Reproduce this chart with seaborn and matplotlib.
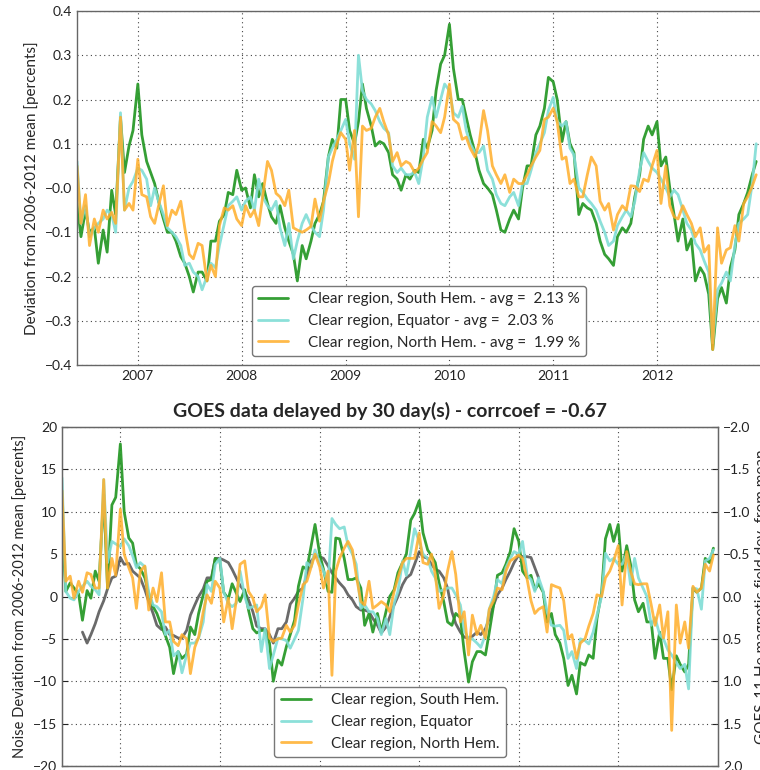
import numpy as np
import pandas as pd
import matplotlib
matplotlib.use('Agg')
import matplotlib.pyplot as plt
import matplotlib.dates as mdates
import seaborn as sns

# semi-monthly samples, June 2006 .. December 2012
dates = pd.date_range('2006-06-01', '2012-12-16', freq='SMS')

# ---- top panel: deviation from 2006-2012 mean [percents]
south_top = [
    -0.035, -0.11, -0.05, -0.1, -0.09, -0.17, -0.095, -0.145, -0.005, -0.06, 0.16, 0.035, 0.095, 0.13,
    0.235, 0.12, 0.06, 0.035, 0.01, -0.03, -0.07, -0.1, -0.1, -0.12, -0.155, -0.17, -0.2, -0.235, -0.19, -0.19, -0.21, -0.12, -0.12, -0.075, -0.06, -0.01, -0.015, 0.04,
    -0.005, 0.0, -0.045, 0.03, -0.02, 0.01, -0.035, -0.065, -0.08, -0.04, -0.09, -0.12, -0.15, -0.21, -0.13, -0.16, -0.12, -0.08, -0.06, -0.03, 0.07, 0.11, 0.09, 0.2,
    0.2, 0.13, 0.1, 0.15, 0.235, 0.18, 0.14, 0.095, 0.105, 0.1, 0.08, 0.03, 0.02, -0.005, 0.03, 0.02, 0.04, 0.035, 0.11, 0.09, 0.13, 0.22, 0.28, 0.3,
    0.37, 0.27, 0.2, 0.2, 0.16, 0.12, 0.08, 0.04, 0.01, 0.0, -0.015, -0.05, -0.095, -0.1, -0.07, -0.05, -0.07, 0.0, 0.05, 0.05, 0.12, 0.14, 0.18, 0.25,
    0.24, 0.2, 0.105, 0.15, 0.1, 0.08, -0.06, -0.035, -0.045, -0.05, -0.08, -0.12, -0.15, -0.16, -0.175, -0.11, -0.09, -0.1, -0.08, -0.02, 0.03, 0.11, 0.14, 0.12,
    0.15, 0.05, 0.07, 0.0, -0.06, -0.12, -0.07, -0.14, -0.115, -0.21, -0.18, -0.195, -0.24, -0.365, -0.25, -0.225, -0.26, -0.18, -0.14, -0.06, -0.035, -0.01, 0.03, 0.06,
]
equator_top = [
    0.06, -0.08, -0.04, -0.11, -0.09, -0.08, -0.07, -0.05, -0.06, -0.1, 0.17, -0.05, 0.0, 0.015,
    0.045, 0.04, 0.02, -0.04, 0.0, -0.03, -0.06, -0.09, -0.1, -0.11, -0.13, -0.175, -0.17, -0.19, -0.2, -0.23, -0.2, -0.17, -0.18, -0.13, -0.08, -0.04, -0.03, -0.02,
    -0.05, -0.03, -0.02, -0.05, 0.02, -0.02, -0.04, -0.05, -0.03, -0.09, -0.13, -0.08, -0.16, -0.12, -0.08, -0.06, -0.085, -0.1, -0.11, -0.05, 0.07, 0.09, 0.11, 0.13,
    0.155, 0.1, 0.065, 0.3, 0.22, 0.2, 0.19, 0.175, 0.15, 0.135, 0.125, 0.05, 0.035, 0.045, 0.03, 0.03, 0.035, 0.01, 0.07, 0.16, 0.205, 0.16, 0.2, 0.235,
    0.22, 0.17, 0.16, 0.185, 0.13, 0.1, 0.08, 0.08, 0.095, 0.04, 0.02, -0.015, -0.035, -0.04, -0.02, -0.01, -0.04, 0.01, 0.01, 0.04, 0.08, 0.1, 0.125, 0.175,
    0.205, 0.15, 0.14, 0.15, 0.09, 0.075, 0.0, -0.01, -0.025, -0.035, -0.05, -0.075, -0.1, -0.13, -0.12, -0.085, -0.065, -0.05, -0.065, -0.03, 0.04, 0.08, 0.06, 0.045,
    0.035, 0.02, 0.0, -0.02, -0.005, -0.015, -0.05, -0.08, -0.095, -0.125, -0.14, -0.165, -0.19, -0.35, -0.23, -0.215, -0.19, -0.21, -0.13, -0.08, -0.07, -0.06, 0.01, 0.1,
]
north_top = [
    0.05, -0.08, -0.015, -0.13, -0.07, -0.1, -0.05, -0.07, -0.055, -0.08, 0.16, -0.05, -0.035, -0.05,
    0.065, -0.015, -0.02, -0.065, -0.08, -0.04, 0.005, -0.085, -0.05, -0.06, -0.03, -0.09, -0.15, -0.16, -0.125, -0.13, -0.21, -0.175, -0.2, -0.085, -0.045, -0.05, -0.04, -0.07,
    -0.085, -0.04, -0.065, -0.05, -0.085, -0.02, 0.06, 0.04, -0.012, -0.02, -0.04, -0.005, -0.09, -0.095, -0.1, -0.095, -0.087, -0.025, -0.075, -0.03, 0.01, 0.06, 0.1, 0.125,
    0.11, 0.04, 0.13, -0.065, 0.14, 0.13, 0.135, 0.16, 0.18, 0.15, 0.12, 0.06, 0.08, 0.05, 0.06, 0.055, 0.035, 0.045, 0.065, 0.08, 0.15, 0.14, 0.125, 0.16,
    0.235, 0.155, 0.145, 0.11, 0.115, 0.09, 0.07, 0.1, 0.175, 0.13, 0.05, 0.03, 0.01, 0.03, -0.01, 0.02, 0.01, 0.01, 0.03, 0.05, 0.07, 0.085, 0.155, 0.16,
    0.18, 0.15, 0.065, 0.07, 0.01, 0.02, -0.02, -0.02, 0.03, 0.07, 0.05, -0.03, -0.05, -0.035, -0.095, -0.06, -0.04, -0.05, 0.005, 0.004, -0.008, 0.02, 0.015, 0.05,
    0.085, -0.035, 0.05, -0.04, -0.065, -0.07, -0.04, -0.06, -0.08, -0.11, -0.09, -0.145, -0.13, -0.365, -0.09, -0.17, -0.14, -0.135, -0.085, -0.12, -0.035, -0.02, 0.004, 0.03,
]
top_labels = ['Clear region, South Hem. - avg =  2.13 %',
              'Clear region, Equator - avg =  2.03 %',
              'Clear region, North Hem. - avg =  1.99 %']

# ---- bottom panel: noise deviation [percents]
south_bot = [
    8.5, 0.6, 1.6, 1.0, 0.3, -2.8, 0.7, -0.2, 3.0, 1.8, 12.0, 1.0, 10.8, 11.7,
    18.0, 10.0, 6.9, 6.3, 3.7, 3.3, 2.2, 0.3, -1.2, -2.0, -3.5, -4.6, -6.0, -9.1, -6.5, -7.3, -6.8, -3.6, -4.5, -2.0, 0.2, 1.8, 2.0, 4.5,
    4.2, 0.5, -0.3, 1.5, 0.4, -0.6, 0.8, -1.6, -3.8, -4.3, -4.0, -4.0, -5.5, -10.0, -7.5, -8.1, -5.9, -4.5, -2.8, 1.2, 3.5, 3.2, 6.0, 8.5,
    5.0, 3.2, 0.6, 0.5, 6.9, 6.8, 4.5, 2.0, 2.0, 2.2, 1.0, -3.4, -2.0, -4.2, -2.0, -4.2, -1.8, 0.0, 0.8, 2.8, 4.0, 5.0, 9.0, 9.8,
    11.3, 7.5, 5.5, 4.8, 4.0, 1.6, -0.6, -3.0, -3.4, -2.0, -2.5, -6.5, -10.1, -7.7, -6.5, -6.5, -6.9, -4.2, -1.0, 2.5, 2.8, 3.8, 5.3, 8.0,
    6.5, 3.0, 2.2, 2.5, 0.8, 1.5, 0.5, -3.0, -2.0, -4.5, -5.5, -7.3, -10.5, -9.3, -11.5, -7.8, -8.1, -6.9, -7.3, -2.6, 0.5, 6.8, 8.5, 6.5,
    8.5, 3.0, 6.0, 3.8, -0.4, -1.8, -0.8, -3.0, -3.0, -7.3, -4.2, -7.3, -7.3, -11.0, -7.0, -8.0, -8.9, -8.0, 1.0, 0.5, 1.0, 4.5, 4.0, 5.7,
]
equator_bot = [
    14.0, 0.6, -0.2, -0.4, 0.6, 1.2, 1.8, 1.2, 0.8, 0.2, 13.8, 4.0, 6.5, 6.2,
    5.9, 6.8, 6.0, 4.8, 3.4, 4.0, 3.5, 0.5, -1.0, -1.2, -1.8, -4.5, -4.0, -7.0, -6.5, -9.0, -6.9, -5.5, -5.5, -4.9, -3.0, 1.4, 0.6, 3.8,
    4.5, 0.5, -0.8, -1.2, -0.8, 3.0, 0.0, -1.4, -1.2, -1.0, -6.5, -3.8, -8.5, -6.9, -4.9, -5.0, -5.2, -6.1, -5.0, -4.0, -0.2, 4.0, 3.5, 5.5,
    4.0, 3.0, 1.5, 9.2, 8.5, 8.0, 8.2, 6.0, 5.0, 3.8, -1.4, -1.0, -1.8, -1.8, -2.6, -4.5, -2.6, -4.5, -0.8, 0.6, 4.2, 2.5, 5.3, 8.0,
    6.5, 5.0, 4.5, 3.0, 2.2, 0.6, 0.8, 1.0, 1.0, 0.2, -1.0, -4.0, -5.0, -5.0, -5.5, -6.0, -4.5, -1.5, 0.0, 2.0, 1.5, 3.4, 4.5, 5.3,
    5.0, 6.5, 2.5, 2.0, 0.6, 2.2, 0.6, -1.8, -3.4, -3.5, -3.4, -4.0, -7.3, -6.5, -8.5, -5.0, -5.2, -5.6, -4.2, -2.2, 0.0, 5.1, 4.2, 4.5,
    3.8, 3.8, 5.0, 1.4, 4.5, 2.2, 1.0, 0.0, -3.4, -2.5, -4.5, -5.0, -6.3, -6.9, -7.8, -8.5, -8.0, -10.9, 1.0, 0.9, -1.5, 4.2, 4.5, 5.5,
]
north_bot = [
    12.5, 1.8, 2.4, -0.2, 1.8, 0.5, 2.8, 2.6, 1.0, 1.0, 13.8, 1.0, 4.5, 2.5,
    10.3, 5.0, 3.4, 2.2, -1.4, 3.0, 3.6, -1.6, 1.0, -0.6, 2.8, -3.0, -3.0, -5.3, -5.8, -4.5, -5.0, -9.1, -6.0, -4.8, -1.8, 0.2, -0.8, 1.8,
    1.0, -3.0, -0.2, -3.8, -0.5, 3.8, 4.2, 0.6, -0.2, -1.8, -1.2, 0.2, -4.9, -5.3, -5.0, -4.9, -3.4, -4.2, -3.4, -1.0, 1.4, 1.8, 3.5, 5.0,
    3.5, 1.0, 3.0, -9.3, 3.0, 4.5, 5.7, 6.5, 5.5, 2.5, -0.6, -1.0, 1.8, -1.4, -1.0, -0.6, -1.0, -1.8, 0.6, 2.2, 4.0, 4.5, 4.5, 4.5,
    7.5, 4.0, 3.8, 5.0, 2.6, -1.4, 0.2, 3.0, 5.3, 2.6, -3.0, -1.8, -6.9, -2.2, -4.5, -3.4, -4.9, -1.5, -0.5, 1.0, 0.8, 3.0, 4.2, 4.5,
    4.9, 4.5, 2.0, -0.5, -2.0, -1.5, -1.2, -4.2, 1.4, 1.2, 1.0, -0.5, -5.0, -4.5, -7.3, -5.5, -5.0, -3.5, -2.0, 0.2, 0.0, 2.2, 3.0, 4.2,
    6.0, -1.0, 5.3, 3.0, 1.5, 1.4, 1.5, 1.5, -1.0, -3.4, -1.0, -4.9, -1.8, -15.8, -1.0, -5.5, -3.0, -6.1, 1.2, 0.5, 1.0, 3.8, 3.0, 4.9,
]
# GOES-11 He magnetic field deviation (right axis, inverted); NaN where no data
nan = np.nan
goes_mag = [
    nan, nan, nan, nan, nan, 0.42, 0.55, 0.45, 0.32, 0.18, 0.05, -0.09, -0.22, -0.24,
    -0.46, -0.38, -0.39, -0.30, -0.26, -0.22, -0.08, 0.06, 0.20, 0.34, 0.39, 0.36, 0.45, 0.46, 0.49, 0.49, 0.40, 0.22, 0.10, 0.00, -0.09, -0.22, -0.22, -0.45,
    -0.45, -0.43, -0.40, -0.32, -0.22, -0.13, -0.06, 0.04, 0.18, 0.35, 0.38, 0.38, 0.45, 0.55, 0.38, 0.38, 0.30, 0.09, 0.02, -0.06, -0.10, -0.26, -0.42, -0.47,
    -0.47, -0.45, -0.36, -0.28, -0.22, -0.16, -0.10, -0.02, 0.04, 0.12, 0.16, 0.16, 0.18, 0.26, 0.34, 0.43, 0.36, 0.24, 0.10, 0.00, -0.14, -0.22, -0.26, -0.38,
    -0.53, -0.47, -0.45, -0.38, -0.32, -0.30, -0.22, -0.10, 0.18, 0.32, 0.42, 0.48, 0.49, 0.47, 0.42, 0.45, 0.38, 0.26, 0.10, -0.02, -0.10, -0.20, -0.30, -0.40,
    -0.49, -0.47, -0.47, -0.46, -0.34, -0.22, nan, nan, nan, nan, nan, nan, nan, nan, nan, nan, nan, nan, nan, nan, nan, nan, nan, nan,
    nan, nan, nan, nan, nan, nan, nan, nan, nan, nan, nan, nan, nan, nan, nan, nan, nan, nan, nan, nan, nan, nan, nan, nan,
]
bot_labels = ['Clear region, South Hem.', 'Clear region, Equator', 'Clear region, North Hem.']

colors = ['#2a9a2a', '#80ddd5', '#ffae2a']
alphas = [0.95, 0.9, 0.85]

sns.set_style('white')
plt.rcParams['font.family'] = ['Lato', 'DejaVu Sans']
plt.rcParams['axes.edgecolor'] = '#666666'

fig = plt.figure(figsize=(7.6, 7.7), dpi=100)
ax1 = fig.add_axes([77 / 760, 1 - 365 / 770, 684 / 760, 354 / 770])
ax2 = fig.add_axes([62 / 760, 1 - 766 / 770, 656 / 760, 339 / 770])

# axis ends just before 2013 so no 2013 tick is drawn
xmin, xmax = pd.Timestamp('2006-06-01'), pd.Timestamp('2012-12-31 20:00')

minus_fmt = plt.FuncFormatter(lambda v, p: f'{v:.1f}'.replace('-', '\u2212'))


def style_axis(ax):
    ax.set_xlim(xmin, xmax)
    ax.xaxis.set_major_locator(mdates.YearLocator())
    ax.xaxis.set_major_formatter(mdates.DateFormatter('%Y'))
    ax.grid(True, linestyle=(0, (1, 3)), color='#444444', linewidth=0.8)
    ax.tick_params(direction='in', length=4, labelsize=10, colors='#222222')
    ax.set_xlabel('')
    for s in ax.spines.values():
        s.set_linewidth(1.0)


# top panel
for vals, lab, c, a in zip([south_top, equator_top, north_top], top_labels, colors, alphas):
    sns.lineplot(x=dates, y=vals, ax=ax1, color=c, alpha=a, linewidth=2.0, label=lab, estimator=None)
style_axis(ax1)
ax1.set_ylim(-0.4, 0.4)
ax1.set_yticks(np.arange(-0.4, 0.41, 0.1))
ax1.yaxis.set_major_formatter(minus_fmt)
ax1.set_ylabel('Deviation from 2006-2012 mean [percents]', fontsize=11)
ax1.legend(loc='lower center', fontsize=11, handlelength=2.0, handletextpad=1.3,
           fancybox=True, framealpha=1, edgecolor='#777777', borderaxespad=0.6)

# bottom panel
for vals, lab, c, a in zip([south_bot, equator_bot, north_bot], bot_labels, colors, alphas):
    sns.lineplot(x=dates, y=vals, ax=ax2, color=c, alpha=a, linewidth=2.0, label=lab, estimator=None)
style_axis(ax2)
ax2.set_ylim(-20, 20)
ax2.set_yticks(np.arange(-20, 21, 5))
ax2.tick_params(labelbottom=False)
ax2.set_ylabel('Noise Deviation from 2006-2012 mean [percents]', fontsize=10.5)
ax2.set_title('GOES data delayed by 30 day(s) - corrcoef = -0.67', fontsize=14,
              fontweight='bold', pad=7)
ax2.legend(loc='lower center', fontsize=11, handlelength=2.0, handletextpad=1.3,
           fancybox=True, framealpha=1, edgecolor='#777777', borderaxespad=0.6)

ax3 = ax2.twinx()
goes = pd.Series(goes_mag, index=dates).dropna()
sns.lineplot(x=goes.index, y=goes.values, ax=ax3, color='#505050', alpha=0.85, linewidth=2.0,
             estimator=None)
ax3.set_ylim(2.0, -2.0)
ax3.set_yticks(np.arange(-2.0, 2.01, 0.5))
ax3.yaxis.set_major_formatter(minus_fmt)
ax3.tick_params(direction='in', length=4, labelsize=10, colors='#222222')
ax3.set_ylabel('GOES-11 He magnetic field dev. from mean', fontsize=11, labelpad=3)
ax3.grid(False)
ax2.set_zorder(ax3.get_zorder() + 1)
ax2.patch.set_visible(False)

fig.savefig('out.png', dpi=100)
